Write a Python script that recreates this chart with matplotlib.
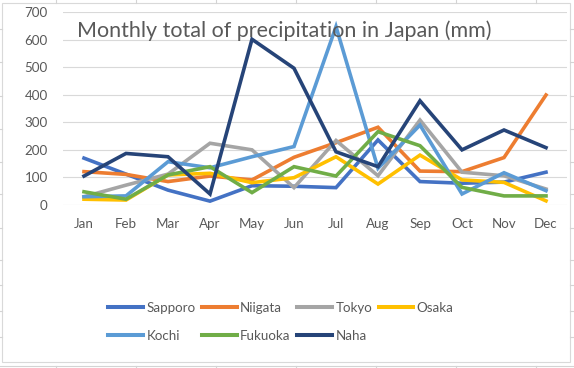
import matplotlib.pyplot as plt
import numpy as np

# monthly precipitation (mm)
months = ["Jan", "Feb", "Mar", "Apr", "May", "Jun",
          "Jul", "Aug", "Sep", "Oct", "Nov", "Dec"]
sapporo = [170, 112, 54, 14, 70, 68, 63, 236, 85, 79, 83, 119]
niigata = [121, 111, 85, 105, 91, 173, 226, 282, 123, 121, 172, 399]
tokyo = [30, 72, 112, 224, 200, 63, 234, 106, 308, 119, 106, 58]
osaka = [21, 18, 109, 115, 81, 99, 175, 76, 181, 91, 82, 15]
kochi = [30, 33, 157, 135, 175, 212, 647, 133, 290, 40, 117, 52]
fukuoka = [48, 21, 109, 139, 45, 139, 105, 266, 215, 64, 33, 33]
naha = [105, 187, 175, 40, 601, 496, 193, 139, 378, 200, 272, 208]

cities = ["Sapporo", "Niigata", "Tokyo", "Osaka", "Kochi", "Fukuoka", "Naha"]
series = [sapporo, niigata, tokyo, osaka, kochi, fukuoka, naha]
colors = ["#4472C4", "#ED7D31", "#A5A5A5", "#FFC000", "#5B9BD5", "#70AD47", "#264478"]

plt.rcParams['font.family'] = ['Lato', 'DejaVu Sans']
txt = "#595959"
grid = "#D9D9D9"

W, H = 574, 368
fig = plt.figure(figsize=(W / 100, H / 100), dpi=100)

# spreadsheet cells behind the chart
bg = fig.add_axes([0, 0, 1, 1], zorder=-5)
bg.set_xlim(0, W)
bg.set_ylim(H, 0)
bg.axis("off")
sheet = "#D4D4D4"
for xv in [55.5, 135.5, 215.5, 295.5, 375.5, 456, 536]:
    bg.plot([xv, xv], [0, 3], color=sheet, lw=0.8)
    bg.plot([xv, xv], [365.5, H], color=sheet, lw=0.8)
for yv in [29, 62, 96, 129, 162, 194, 228, 260, 285, 311, 337]:
    bg.plot([0, 1.5], [yv, yv], color=sheet, lw=0.8)
    bg.plot([570, W], [yv, yv], color=sheet, lw=0.8)
bg.plot([0, W], [365.5, 365.5], color=sheet, lw=0.8)
bg.add_patch(plt.Rectangle((1.5, 3), 568, 359, fill=True, facecolor="white",
                           edgecolor=grid, lw=0.8))

# plot area
ax = fig.add_axes([63 / W, 1 - 205 / H, 504 / W, 193 / H])
ax.patch.set_alpha(0)
x = np.arange(len(months))
lines = {}
for name, vals, c in zip(cities, series, colors):
    lines[name], = ax.plot(x, vals, color=c, lw=2.6, label=name,
                           solid_joinstyle="miter")

ax.set_xlim(-0.5, 11.5)
ax.set_ylim(0, 700)
ax.set_yticks(range(0, 701, 100))
ax.set_xticks(x)
ax.set_xticklabels(months)
ax.yaxis.grid(True, color=grid, lw=0.8)
ax.set_axisbelow(True)
for s in ax.spines.values():
    s.set_visible(False)
ax.tick_params(length=0, colors=txt, labelsize=9.6)
ax.tick_params(axis="x", pad=9)
ax.tick_params(axis="y", pad=11)

fig.text(284.5 / W, 1 - 31 / H, "Monthly total of precipitation in Japan (mm)",
         ha="center", va="center", fontsize=15.5, color=txt)

# matplotlib fills legend columns first, so reorder to get rows like Excel
order = ["Sapporo", "Kochi", "Niigata", "Fukuoka", "Tokyo", "Naha", "Osaka"]
leg = fig.legend([lines[n] for n in order], order, loc="center",
                 bbox_to_anchor=(281 / W, 1 - 322 / H), ncol=4,
                 frameon=False, fontsize=9.6, handlelength=2.6, handletextpad=0.25,
                 columnspacing=0.5, labelspacing=1.2, labelcolor=txt)
for h in leg.get_lines():
    h.set_linewidth(2.9)

fig.savefig("out.png", dpi=100)
